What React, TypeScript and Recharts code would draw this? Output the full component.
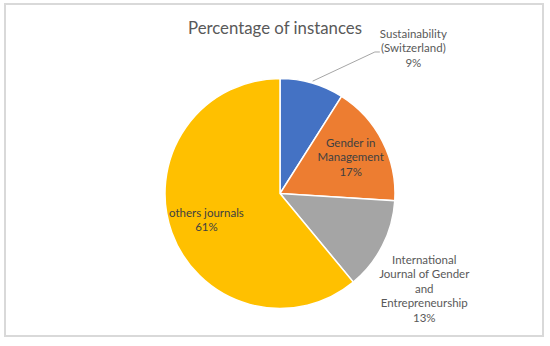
import React from 'react';
import { PieChart, Pie, Cell } from 'recharts';

const categories = [
  'Sustainability (Switzerland)',
  'Gender in Management',
  'International Journal of Gender and Entrepreneurship',
  'others journals',
];
const values = [9, 17, 13, 61];
const labelLines = [
  ['Sustainability', '(Switzerland)'],
  ['Gender in', 'Management'],
  ['International', 'Journal of Gender', 'and', 'Entrepreneurship'],
  ['others journals'],
];
const colors = ['#4472C4', '#ED7D31', '#A5A5A5', '#FFC000'];
const title = 'Percentage of instances';

const data = categories.map((name, i) => ({ name, value: values[i] }));

// label placement style: inside (fraction of radius at mid angle) or outside (polar offset)
const placements: any[] = [
  { type: 'outside', angle: 47.4, r: 197, leader: true },
  { type: 'inside', f: 0.69 },
  { type: 'outside', angle: -33.5, r: 173 },
  { type: 'inside', f: 0.68 },
];

const RAD = Math.PI / 180;
const LH = 14.5;
const FONT = 'Lato, "Open Sans", sans-serif';

const renderLabel = (props: any) => {
  const { cx, cy, midAngle, outerRadius, index } = props;
  const p = placements[index];
  let x: number, y: number;
  if (p.type === 'inside') {
    x = cx + outerRadius * p.f * Math.cos(midAngle * RAD);
    y = cy - outerRadius * p.f * Math.sin(midAngle * RAD);
  } else {
    x = cx + p.r * Math.cos(p.angle * RAD);
    y = cy - p.r * Math.sin(p.angle * RAD);
  }
  const lines = [...labelLines[index], `${values[index]}%`];
  const n = lines.length;
  const firstBaseline = y - ((n - 1) * LH) / 2 + 4;
  const fill = p.type === 'inside' ? '#404040' : '#595959';
  let leader = null;
  if (p.leader) {
    const sx = cx + (outerRadius + 2) * Math.cos(midAngle * RAD);
    const sy = cy - (outerRadius + 2) * Math.sin(midAngle * RAD);
    const ex = x - 38.5;
    const ey = y + 3.5;
    leader = (
      <polyline
        points={`${sx},${sy} ${ex},${ey} ${ex + 5},${ey}`}
        fill="none"
        stroke="#a6a6a6"
        strokeWidth={1}
      />
    );
  }
  return (
    <g key={`lbl-${index}`}>
      {leader}
      <text
        x={x}
        y={firstBaseline}
        textAnchor="middle"
        fill={fill}
        style={{ fontFamily: FONT, fontSize: 11.5 }}
      >
        {lines.map((l, i) => (
          <tspan key={i} x={x} dy={i === 0 ? 0 : LH}>
            {l}
          </tspan>
        ))}
      </text>
    </g>
  );
};

export default function App() {
  return (
    <div style={{ position: 'absolute', left: 0, top: 0, width: 550, height: 346, background: '#fff' }}>
      <div
        style={{
          position: 'absolute',
          left: 4,
          top: 3,
          width: 536,
          height: 330,
          border: '2px solid #d9d9d9',
        }}
      />
      <div
        style={{
          position: 'absolute',
          left: 0,
          top: 17,
          width: 550,
          fontFamily: FONT,
          fontSize: 16.8,
          color: '#595959',
        }}
      >
        <span style={{ position: 'absolute', left: 188, whiteSpace: 'nowrap' }}>{title}</span>
      </div>
      <div style={{ position: 'absolute', left: 0, top: 0 }}>
        <PieChart width={550} height={346}>
          <Pie
            data={data}
            dataKey="value"
            nameKey="name"
            cx={275}
            cy={188.5}
            outerRadius={115}
            startAngle={90}
            endAngle={-270}
            stroke="#ffffff"
            strokeWidth={1.5}
            label={renderLabel}
            labelLine={false}
            isAnimationActive={false}
          >
            {data.map((d, i) => (
              <Cell key={d.name} fill={colors[i]} />
            ))}
          </Pie>
        </PieChart>
      </div>
    </div>
  );
}
